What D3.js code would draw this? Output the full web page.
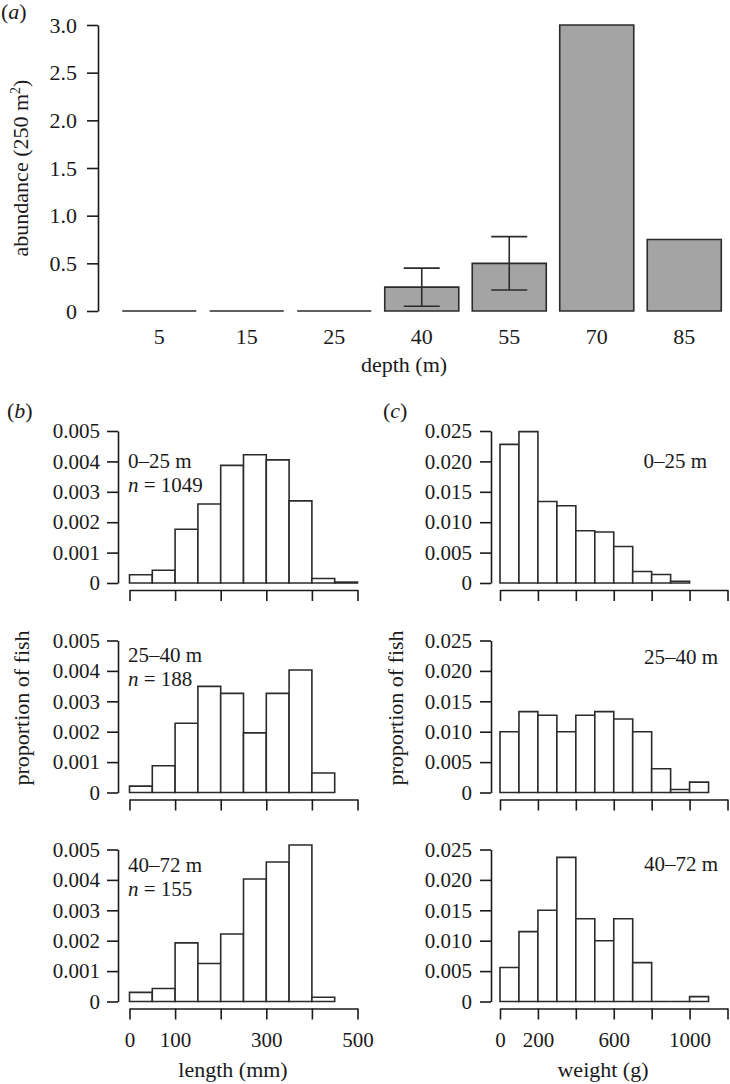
<!DOCTYPE html>
<meta charset="utf-8" />
<title>Abundance, length and weight by depth</title>
<style>
  body { margin: 0; background: #fff; }
  text { font-family: "Liberation Serif", "Times New Roman", Times, serif; fill: #1a1a1a; }
  .bar { stroke: #2b2b2b; stroke-width: 1.6; }
  .err { stroke: #2b2b2b; stroke-width: 1.6; fill: none; }
  .axis path, .axis line { stroke: #1a1a1a; stroke-width: 1.6; }
</style>
<body>
<script src="https://d3js.org/d3.v7.min.js"></script>
<script>
  // panel (a): abundance by depth
  var depthLabels = ["5", "15", "25", "40", "55", "70", "85"];
  var abundance = [0, 0, 0, 0.25, 0.5, 3.0, 0.75];
  var errLow = [null, null, null, 0.05, 0.22, null, null];
  var errHigh = [null, null, null, 0.45, 0.78, null, null];
  var abundanceTicks = [0, 0.5, 1, 1.5, 2, 2.5, 3];

  // panels (b), (c): histograms per depth range
  var depthRanges = ["0\u201325 m", "25\u201340 m", "40\u201372 m"];
  var sampleSizes = [1049, 188, 155];

  var lengthBreaks = [0, 50, 100, 150, 200, 250, 300, 350, 400, 450, 500];
  var lengthShallow = [0.00027, 0.00042, 0.00177, 0.0026, 0.00387, 0.00422, 0.00405, 0.0027, 0.00015, 0.00003];
  var lengthMid = [0.00021, 0.00088, 0.00228, 0.00349, 0.00326, 0.00196, 0.00326, 0.00403, 0.00064];
  var lengthDeep = [0.0003, 0.00043, 0.00193, 0.00125, 0.00222, 0.00403, 0.00459, 0.00515, 0.00014];
  var lengthTicks = [0, 100, 200, 300, 400, 500];
  var lengthTickLabels = ["0", "100", "", "300", "", "500"];
  var lengthPropTicks = [0, 0.001, 0.002, 0.003, 0.004, 0.005];

  var weightBreaks = [0, 100, 200, 300, 400, 500, 600, 700, 800, 900, 1000, 1100];
  var weightShallow = [0.0228, 0.0249, 0.0134, 0.0127, 0.0086, 0.0084, 0.006, 0.0019, 0.0014, 0.0003];
  var weightMid = [0.01, 0.0133, 0.0127, 0.01, 0.0127, 0.0133, 0.0121, 0.01, 0.0039, 0.0005, 0.0017];
  var weightDeep = [0.0056, 0.0115, 0.015, 0.0237, 0.0136, 0.01, 0.0136, 0.0064, 0, 0, 0.0008];
  var weightTicks = [0, 200, 400, 600, 800, 1000, 1200];
  var weightTickLabels = ["0", "200", "", "600", "", "1000", ""];
  var weightPropTicks = [0, 0.005, 0.01, 0.015, 0.02, 0.025];

  var width = 730, height = 1084;
  var svg = d3.select("body").append("svg")
    .attr("width", width)
    .attr("height", height);

  function styleAxis(g, size) {
    g.attr("class", "axis").attr("font-family", null).attr("font-size", null);
    g.selectAll("text").attr("font-size", size).style("fill", "#1a1a1a");
  }

  // ---------- panel (a) ----------
  var xa = d3.scaleBand()
    .domain(depthLabels)
    .range([115.5, 728])
    .paddingInner(0.154)
    .paddingOuter(0.077);
  var ya = d3.scaleLinear().domain([0, 3]).range([311, 25]);

  svg.append("g")
    .attr("transform", "translate(98,0)")
    .call(d3.axisLeft(ya).tickValues(abundanceTicks)
      .tickFormat(function(d) { return d === 0 ? "0" : d3.format(".1f")(d); })
      .tickSize(11).tickPadding(10).tickSizeOuter(0))
    .call(styleAxis, 22);

  svg.append("g").selectAll("path")
    .data(abundance)
    .enter().append("path")
    .attr("class", "bar")
    .attr("fill", "#a4a4a4")
    .attr("d", function(d, i) {
      var x0 = xa(depthLabels[i]), x1 = x0 + xa.bandwidth();
      return "M" + x0 + "," + ya(0) + "V" + ya(d) + "H" + x1 + "V" + ya(0) + "Z";
    });

  // error bars
  var errIdx = d3.range(abundance.length).filter(function(i) { return errLow[i] != null; });
  var eg = svg.append("g");
  errIdx.forEach(function(i) {
    var cx = xa(depthLabels[i]) + xa.bandwidth() / 2, cap = 18;
    eg.append("path").attr("class", "err")
      .attr("d", "M" + cx + "," + ya(errLow[i]) + "V" + ya(errHigh[i]) +
        "M" + (cx - cap) + "," + ya(errHigh[i]) + "H" + (cx + cap) +
        "M" + (cx - cap) + "," + ya(errLow[i]) + "H" + (cx + cap));
  });

  // depth labels (no axis line)
  svg.append("g").selectAll("text")
    .data(depthLabels)
    .enter().append("text")
    .attr("x", function(d) { return xa(d) + xa.bandwidth() / 2; })
    .attr("y", 344)
    .attr("text-anchor", "middle")
    .attr("font-size", 22)
    .text(function(d) { return d; });

  svg.append("text").attr("x", 404).attr("y", 372).attr("text-anchor", "middle")
    .attr("font-size", 22).text("depth (m)");

  svg.append("text")
    .attr("transform", "translate(28,168) rotate(-90)")
    .attr("text-anchor", "middle")
    .attr("font-size", 22)
    .html('abundance (250 m<tspan dy="-8" font-size="14">2</tspan><tspan dy="8">)</tspan>');

  svg.append("text").attr("x", 1).attr("y", 19).attr("font-size", 22)
    .html('(<tspan font-style="italic">a</tspan>)');

  // ---------- panels (b) and (c) ----------
  var rowBase = [583, 792.5, 1001.5];
  var rowHeight = 152;
  var lengthSets = [lengthShallow, lengthMid, lengthDeep];
  var weightSets = [weightShallow, weightMid, weightDeep];
  var lengthLabelY = [468, 661.5, 871.5];
  var weightLabelY = [468, 664, 871];

  var xl = d3.scaleLinear().domain([0, 500]).range([129.5, 357.5]);
  var xw = d3.scaleLinear().domain([0, 1200]).range([500, 727.5]);

  function histogram(values, breaks, x, y) {
    svg.append("g").selectAll("path")
      .data(values)
      .enter().append("path")
      .attr("class", "bar")
      .attr("fill", "#fff")
      .attr("d", function(d, i) {
        var x0 = x(breaks[i]), x1 = x(breaks[i + 1]);
        return "M" + x0 + "," + y(0) + "V" + y(d) + "H" + x1 + "V" + y(0) + "Z";
      });
  }

  rowBase.forEach(function(base, r) {
    var last = r === rowBase.length - 1;

    // length histogram
    var yl = d3.scaleLinear().domain([0, 0.005]).range([base, base - rowHeight]);
    svg.append("g").attr("transform", "translate(118,0)")
      .call(d3.axisLeft(yl).tickValues(lengthPropTicks)
        .tickFormat(function(d) { return d === 0 ? "0" : d3.format(".3f")(d); })
        .tickSize(11).tickPadding(7).tickSizeOuter(0))
      .call(styleAxis, 21);
    histogram(lengthSets[r], lengthBreaks, xl, yl);
    svg.append("g").attr("transform", "translate(0," + (base + 7) + ")")
      .call(d3.axisBottom(xl).tickValues(lengthTicks)
        .tickFormat(function(d, i) { return last ? lengthTickLabels[i] : ""; })
        .tickSize(11).tickPadding(13).tickSizeOuter(0))
      .call(styleAxis, 21);
    svg.append("text").attr("x", 128).attr("y", lengthLabelY[r])
      .attr("font-size", 21).text(depthRanges[r]);
    svg.append("text").attr("x", 128).attr("y", lengthLabelY[r] + 24)
      .attr("font-size", 21)
      .html('<tspan font-style="italic">n</tspan> = ' + sampleSizes[r]);

    // weight histogram
    var yw = d3.scaleLinear().domain([0, 0.025]).range([base, base - rowHeight]);
    svg.append("g").attr("transform", "translate(491,0)")
      .call(d3.axisLeft(yw).tickValues(weightPropTicks)
        .tickFormat(function(d) { return d === 0 ? "0" : d3.format(".3f")(d); })
        .tickSize(11).tickPadding(8).tickSizeOuter(0))
      .call(styleAxis, 21);
    histogram(weightSets[r], weightBreaks, xw, yw);
    svg.append("g").attr("transform", "translate(0," + (base + 7) + ")")
      .call(d3.axisBottom(xw).tickValues(weightTicks)
        .tickFormat(function(d, i) { return last ? weightTickLabels[i] : ""; })
        .tickSize(11).tickPadding(13).tickSizeOuter(0))
      .call(styleAxis, 21);
    svg.append("text").attr("x", r === 0 ? 707 : 718).attr("y", weightLabelY[r])
      .attr("text-anchor", "end").attr("font-size", 21).text(depthRanges[r]);
  });

  // shared labels
  svg.append("text").attr("transform", "translate(29,708) rotate(-90)")
    .attr("text-anchor", "middle").attr("font-size", 22).text("proportion of fish");
  svg.append("text").attr("transform", "translate(403,708) rotate(-90)")
    .attr("text-anchor", "middle").attr("font-size", 22).text("proportion of fish");
  svg.append("text").attr("x", 233).attr("y", 1077).attr("text-anchor", "middle")
    .attr("font-size", 22).text("length (mm)");
  svg.append("text").attr("x", 603).attr("y", 1077).attr("text-anchor", "middle")
    .attr("font-size", 22).text("weight (g)");
  svg.append("text").attr("x", 7).attr("y", 418).attr("font-size", 22)
    .html('(<tspan font-style="italic">b</tspan>)');
  svg.append("text").attr("x", 383).attr("y", 418).attr("font-size", 22)
    .html('(<tspan font-style="italic">c</tspan>)');
</script>
</body>
